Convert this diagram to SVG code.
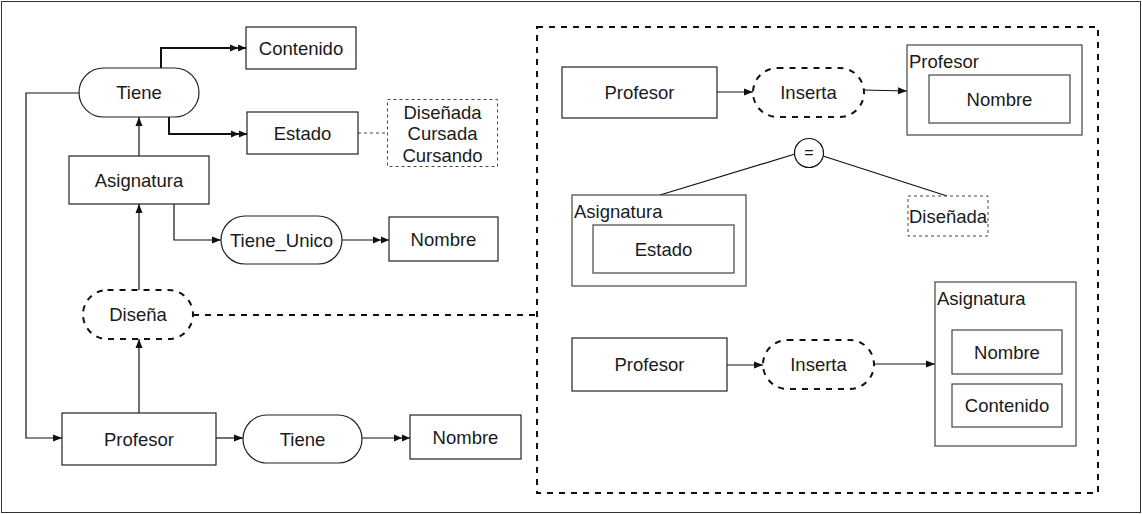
<svg xmlns="http://www.w3.org/2000/svg" width="1142" height="514" viewBox="0 0 1142 514">
<style>
  text { font-family: "Liberation Sans", Arial, sans-serif; font-size: 18.5px; fill: #1a1a1a; }
  .c { text-anchor: middle; dominant-baseline: central; }
  .l { text-anchor: start; }
  .box { fill: #fff; stroke: #222; stroke-width: 1.2; }
  .cont { fill: #fff; stroke: #444; stroke-width: 1.2; }
  .dash2 { fill: #fff; stroke: #111; stroke-width: 2; stroke-dasharray: 6 6; }
  .dot { fill: #fff; stroke: #444; stroke-width: 1; stroke-dasharray: 3 3; }
  .ln { fill: none; stroke: #111; stroke-width: 1.2; }
  .thk { fill: none; stroke: #111; stroke-width: 2; }
  .dl { fill: none; stroke: #444; stroke-width: 1; stroke-dasharray: 3 3; }
  .dl2 { fill: none; stroke: #111; stroke-width: 2; stroke-dasharray: 6 6; }
</style>
<defs>
  <marker id="arr" markerUnits="userSpaceOnUse" markerWidth="10" markerHeight="8" refX="9" refY="4" orient="auto">
    <path d="M0,0.5 L9,4 L0,7.5 z" fill="#111"/>
  </marker>
  <marker id="darr" markerUnits="userSpaceOnUse" markerWidth="17" markerHeight="8" refX="16" refY="4" orient="auto">
    <path d="M0,0.5 L8,4 L0,7.5 z M8,0.5 L16,4 L8,7.5 z" fill="#111"/>
  </marker>
</defs>
<rect x="1.5" y="1.5" width="1139" height="511" fill="#fff" stroke="#333" stroke-width="1"/>

<g id="connectors">
  <path class="thk" d="M161,68 V48 H246" marker-end="url(#darr)"/>
  <path class="thk" d="M169,117 V134 H247" marker-end="url(#darr)"/>
  <path class="dl" d="M358,133 H387"/>
  <path class="ln" d="M139,156 V117" marker-end="url(#arr)"/>
  <path class="ln" d="M174,204 V240 H221" marker-end="url(#arr)"/>
  <path class="ln" d="M342,240 H389" marker-end="url(#darr)"/>
  <path class="ln" d="M79,93 H26 V438 H62" marker-end="url(#arr)"/>
  <path class="ln" d="M139,290 V204" marker-end="url(#arr)"/>
  <path class="ln" d="M139,413 V339" marker-end="url(#arr)"/>
  <path class="dl2" d="M193,315 H537"/>
  <path class="ln" d="M216,438 H243" marker-end="url(#arr)"/>
  <path class="ln" d="M362,438 H410" marker-end="url(#darr)"/>
  <path class="ln" d="M717,92 H753" marker-end="url(#arr)"/>
  <path class="ln" d="M864,90 L907,91" marker-end="url(#arr)"/>
  <path class="ln" d="M795,154 L660,195"/>
  <path class="ln" d="M823,156 L947,196"/>
  <path class="ln" d="M727,365 H763" marker-end="url(#arr)"/>
  <path class="ln" d="M874,364 H935" marker-end="url(#arr)"/>
</g>

<rect id="frame" x="537" y="27" width="561" height="466" fill="none" stroke="#111" stroke-width="2" stroke-dasharray="6 6"/>

<g id="contenido"><rect class="box" x="246" y="27" width="110" height="42"/><text class="c" x="301" y="48">Contenido</text></g>
<g id="tiene1"><rect class="box" x="79" y="68" width="120" height="49" rx="24.5"/><text class="c" x="139" y="92.5">Tiene</text></g>
<g id="estado"><rect class="box" x="247" y="112" width="111" height="42"/><text class="c" x="302.5" y="133">Estado</text></g>
<g id="valores"><rect class="dot" x="387.5" y="99.5" width="110" height="67"/>
  <text class="c" x="442.5" y="112">Diseñada</text><text class="c" x="442.5" y="133.5">Cursada</text><text class="c" x="442.5" y="155">Cursando</text></g>
<g id="asignatura"><rect class="box" x="69" y="156" width="140" height="48"/><text class="c" x="139" y="180">Asignatura</text></g>
<g id="tiene_unico"><rect class="box" x="221" y="216" width="121" height="48" rx="24"/><text class="c" x="281.5" y="240">Tiene_Unico</text></g>
<g id="nombre1"><rect class="box" x="389" y="217" width="109" height="44"/><text class="c" x="443.5" y="239">Nombre</text></g>
<g id="disena"><rect class="dash2" x="83" y="290" width="110" height="49" rx="24.5"/><text class="c" x="138" y="314.5">Diseña</text></g>
<g id="profesor1"><rect class="box" x="62" y="413" width="154" height="52"/><text class="c" x="139" y="439">Profesor</text></g>
<g id="tiene2"><rect class="box" x="243" y="415" width="119" height="48" rx="24"/><text class="c" x="302.5" y="439">Tiene</text></g>
<g id="nombre2"><rect class="box" x="410" y="415" width="111" height="44"/><text class="c" x="465.5" y="437">Nombre</text></g>

<g id="r_profesor1"><rect class="box" x="562" y="67" width="155" height="51"/><text class="c" x="639.5" y="92.5">Profesor</text></g>
<g id="r_inserta1"><rect class="dash2" x="753" y="68" width="111" height="49" rx="24.5"/><text class="c" x="808.5" y="92.5">Inserta</text></g>
<g id="r_profesor_cont"><rect class="cont" x="907" y="45" width="175" height="90"/><text class="l" x="909" y="68">Profesor</text>
  <rect class="cont" x="929" y="75" width="141" height="48"/><text class="c" x="999.5" y="99">Nombre</text></g>
<g id="r_igual"><circle cx="809" cy="153" r="14.5" fill="#fff" stroke="#111" stroke-width="1.2"/><text class="c" x="809" y="152" style="font-size:16px">=</text></g>
<g id="r_asig_cont"><rect class="cont" x="572" y="195" width="174" height="91"/><text class="l" x="574" y="218">Asignatura</text>
  <rect class="cont" x="593" y="225" width="141" height="48"/><text class="c" x="663.5" y="249">Estado</text></g>
<g id="r_disenada"><rect class="dot" x="908" y="196" width="80" height="40"/><text class="c" x="948" y="216">Diseñada</text></g>
<g id="r_profesor2"><rect class="box" x="572" y="338" width="155" height="53"/><text class="c" x="649.5" y="364.5">Profesor</text></g>
<g id="r_inserta2"><rect class="dash2" x="763" y="340" width="111" height="49" rx="24.5"/><text class="c" x="818.5" y="364.5">Inserta</text></g>
<g id="r_asig_cont2"><rect class="cont" x="935" y="282" width="141" height="164"/><text class="l" x="937" y="305">Asignatura</text>
  <rect class="cont" x="952" y="330" width="110" height="44"/><text class="c" x="1007" y="352">Nombre</text>
  <rect class="cont" x="952" y="384" width="110" height="43"/><text class="c" x="1007" y="405.5">Contenido</text></g>
</svg>
